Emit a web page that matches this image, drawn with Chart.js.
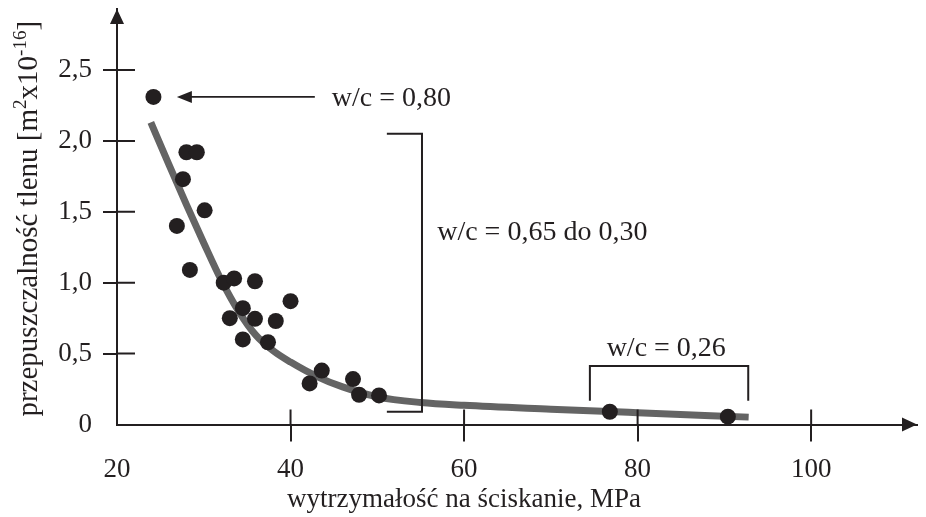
<!DOCTYPE html>
<html>
<head>
<meta charset="utf-8">
<script src="https://cdn.jsdelivr.net/npm/chart.js@4.4.1/dist/chart.umd.min.js"></script>
<style>
  html, body { margin: 0; padding: 0; background: #fff; }
  #wrap { width: 926px; height: 517px; }
</style>
</head>
<body>
<div id="wrap"><canvas id="chart" width="926" height="517"></canvas></div>
<script>
/**********************************
  DATA
**********************************/
// measured samples: compressive strength [MPa] vs oxygen permeability
const strength = [24.2, 28.0, 29.2, 27.6, 30.1, 26.9, 28.4, 32.3, 33.5, 35.9, 40.0, 34.5,
                  33.0, 35.9, 38.3, 34.5, 37.4, 42.2, 43.6, 47.2, 47.9, 50.2, 76.8, 90.4];
const permeability = [2.31, 1.92, 1.92, 1.73, 1.51, 1.40, 1.09, 1.00, 1.03, 1.01, 0.87, 0.82,
                      0.75, 0.745, 0.73, 0.60, 0.58, 0.29, 0.38, 0.32, 0.21, 0.205, 0.09, 0.055];

// trend curve, points
const curveX = [23.9, 26, 28, 30, 32, 34, 36, 38, 40, 43, 46, 50, 55, 60, 70, 80, 92.8];
const curveY = [2.13, 1.83, 1.55, 1.28, 1.02, 0.80, 0.63, 0.52, 0.44, 0.34, 0.265, 0.195, 0.155, 0.135, 0.108, 0.083, 0.052];

const xTicks = [20, 40, 60, 80, 100];
const yTicks = [0, 0.5, 1, 1.5, 2, 2.5];
const yTickLabels = ['0', '0,5', '1,0', '1,5', '2,0', '2,5'];

const xTitle = 'wytrzymałość na ściskanie, MPa';
const yTitleParts = [['przepuszczalność tlenu [m', false], ['2', true], ['x10', false], ['-16', true], [']', false]];

const labelHigh = 'w/c = 0,80';
const labelMid = 'w/c = 0,65 do 0,30';
const labelLow = 'w/c = 0,26';

/**********************************
  STYLE
**********************************/
const INK = '#231f20';
const CURVE = '#646464';
const FONT = '"Liberation Serif", "Times New Roman", serif';

// annotation anchors in data units
const arrowFrom = [42.8, 2.31], arrowTo = [26.9, 2.31];
const bracketMid = { x0: 51.1, x1: 55.15, yTop: 2.05, yBot: 0.09 };
const bracketLow = { x0: 74.5, x1: 92.75, yTop: 0.413, yBot: 0.168 };

/**********************************
  DECORATION PLUGIN
**********************************/
const decor = {
  id: 'decor',
  afterDraw(chart) {
    const { ctx, chartArea: a, scales: { x, y } } = chart;
    const px = v => x.getPixelForValue(v);
    const py = v => y.getPixelForValue(v);
    ctx.save();
    ctx.strokeStyle = INK;
    ctx.fillStyle = INK;

    // inner halves of tick marks
    ctx.lineWidth = 2;
    ctx.beginPath();
    yTicks.forEach(v => { if (v > 0) { ctx.moveTo(a.left, py(v)); ctx.lineTo(a.left + 18, py(v)); } });
    xTicks.forEach(v => { if (v > 20) { ctx.moveTo(px(v), a.bottom); ctx.lineTo(px(v), a.bottom - 15); } });
    ctx.stroke();

    // axis arrowheads
    ctx.beginPath();
    ctx.moveTo(a.left, a.top); ctx.lineTo(a.left - 7, a.top + 15); ctx.lineTo(a.left + 7, a.top + 15);
    ctx.closePath(); ctx.fill();
    ctx.beginPath();
    ctx.moveTo(a.right, a.bottom); ctx.lineTo(a.right - 15, a.bottom - 7); ctx.lineTo(a.right - 15, a.bottom + 7);
    ctx.closePath(); ctx.fill();

    // arrow to the w/c = 0,80 point
    const ay = py(arrowFrom[1]), tip = px(arrowTo[0]);
    ctx.lineWidth = 1.8;
    ctx.beginPath(); ctx.moveTo(px(arrowFrom[0]), ay); ctx.lineTo(tip + 10, ay); ctx.stroke();
    ctx.beginPath();
    ctx.moveTo(tip, ay); ctx.lineTo(tip + 15, ay - 6); ctx.lineTo(tip + 15, ay + 6);
    ctx.closePath(); ctx.fill();

    // brackets
    ctx.lineWidth = 2;
    ctx.beginPath();
    ctx.moveTo(px(bracketMid.x0), py(bracketMid.yTop));
    ctx.lineTo(px(bracketMid.x1), py(bracketMid.yTop));
    ctx.lineTo(px(bracketMid.x1), py(bracketMid.yBot));
    ctx.lineTo(px(bracketMid.x0), py(bracketMid.yBot));
    ctx.stroke();
    ctx.beginPath();
    ctx.moveTo(px(bracketLow.x0), py(bracketLow.yBot));
    ctx.lineTo(px(bracketLow.x0), py(bracketLow.yTop));
    ctx.lineTo(px(bracketLow.x1), py(bracketLow.yTop));
    ctx.lineTo(px(bracketLow.x1), py(bracketLow.yBot));
    ctx.stroke();

    // annotation labels
    ctx.font = '28px ' + FONT;
    ctx.textBaseline = 'alphabetic';
    ctx.textAlign = 'left';
    ctx.fillText(labelHigh, px(44.75), py(2.244));
    ctx.fillText(labelMid, px(56.9), py(1.302));
    ctx.textAlign = 'center';
    ctx.fillText(labelLow, px(83.3), py(0.48));

    // x axis title, centred under the 20..100 range
    ctx.font = '27px ' + FONT;
    ctx.fillText(xTitle, px(60), a.bottom + 82.5);

    // y axis title with superscripts
    ctx.save();
    ctx.translate(37, (a.top + a.bottom) / 2 + 2);
    ctx.rotate(-Math.PI / 2);
    ctx.textAlign = 'left';
    const fontOf = sup => (sup ? '19px ' : '29px ') + FONT;
    let total = 0;
    yTitleParts.forEach(([t, sup]) => { ctx.font = fontOf(sup); total += ctx.measureText(t).width; });
    let cx = -total / 2;
    yTitleParts.forEach(([t, sup]) => {
      ctx.font = fontOf(sup);
      ctx.fillText(t, cx, sup ? -11 : 0);
      cx += ctx.measureText(t).width;
    });
    ctx.restore();

    ctx.restore();
  }
};

/**********************************
  CHART
**********************************/
const points = strength.map((v, i) => ({ x: v, y: permeability[i] }));
const curve = curveX.map((v, i) => ({ x: v, y: curveY[i] }));

// drop the label overflow padding Chart.js reserves, we place the area ourselves
const noPad = s => { s.paddingTop = 0; s.paddingBottom = 0; s.paddingLeft = 0; s.paddingRight = 0; };

new Chart(document.getElementById('chart'), {
  type: 'scatter',
  data: {
    datasets: [
      {
        data: points,
        pointRadius: 8,
        pointBackgroundColor: INK,
        pointBorderWidth: 0,
        order: 1
      },
      {
        type: 'line',
        data: curve,
        borderColor: CURVE,
        borderWidth: 7,
        pointRadius: 0,
        cubicInterpolationMode: 'monotone',
        fill: false,
        order: 2
      }
    ]
  },
  options: {
    responsive: false,
    animation: false,
    devicePixelRatio: 1,
    layout: { padding: { top: 9, right: 9, left: 0, bottom: 0 } },
    plugins: { legend: { display: false }, tooltip: { enabled: false } },
    scales: {
      x: {
        type: 'linear',
        min: 20,
        max: 112.2,
        afterFit: s => { s.height = 92.5; noPad(s); },
        afterBuildTicks: s => { s.ticks = xTicks.map(v => ({ value: v })); },
        border: { display: true, color: INK, width: 2 },
        grid: {
          drawOnChartArea: false,
          drawTicks: true,
          tickLength: 17,
          lineWidth: 2,
          color: c => (c.tick && c.tick.value === 20 ? 'rgba(0,0,0,0)' : INK)
        },
        ticks: {
          color: INK,
          font: { family: FONT, size: 27 },
          padding: 12,
          maxRotation: 0,
          callback: v => String(v)
        }
      },
      y: {
        type: 'linear',
        min: 0,
        max: 2.93,
        afterFit: s => { s.width = 117; noPad(s); },
        afterBuildTicks: s => { s.ticks = yTicks.map(v => ({ value: v })); },
        border: { display: true, color: INK, width: 2 },
        grid: {
          drawOnChartArea: false,
          drawTicks: true,
          tickLength: 14,
          lineWidth: 2,
          color: c => (c.tick && c.tick.value === 0 ? 'rgba(0,0,0,0)' : INK)
        },
        ticks: {
          color: INK,
          font: { family: FONT, size: 27 },
          padding: 11,
          callback: (v, i) => yTickLabels[i]
        }
      }
    }
  },
  plugins: [decor]
});
</script>
</body>
</html>
